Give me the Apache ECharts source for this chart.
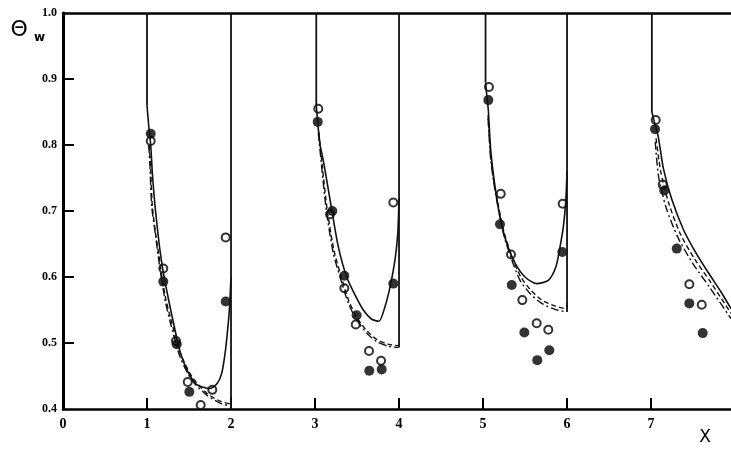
<!DOCTYPE html>
<html><head><meta charset="utf-8">
<script src="https://cdn.jsdelivr.net/npm/echarts@6/dist/echarts.min.js"></script>
<style>html,body{margin:0;padding:0;background:#fff}#c{width:731px;height:451px}</style>
</head><body><div id="c"></div><script>
// axis ranges
const xRange = [0, 7.952];
const yRange = [0.4, 1.0];
// tick positions
const xTickVals = [1, 2, 3, 4, 5, 6, 7];
const yTickVals = [0.5, 0.6, 0.7, 0.8, 0.9];

// measured points (filled circles)
const filledPts = [
  [1.044,0.817],[1.194,0.593],[1.354,0.498],[1.504,0.426],[1.937,0.563],
  [3.032,0.835],[3.206,0.700],[3.349,0.602],[3.496,0.542],[3.646,0.458],[3.794,0.460],[3.932,0.590],
  [5.063,0.868],[5.202,0.680],[5.342,0.588],[5.492,0.516],[5.646,0.474],[5.789,0.489],[5.944,0.638],
  [7.048,0.824],[7.158,0.731],[7.306,0.643],[7.456,0.560],[7.615,0.515]
];
// measured points (open circles)
const openPts = [
  [1.044,0.806],[1.194,0.613],[1.345,0.503],[1.485,0.441],[1.639,0.406],[1.777,0.429],[1.937,0.660],
  [3.039,0.855],[3.179,0.695],[3.349,0.583],[3.485,0.528],[3.643,0.488],[3.786,0.473],[3.932,0.713],
  [5.071,0.888],[5.211,0.726],[5.333,0.634],[5.468,0.565],[5.639,0.530],[5.777,0.520],[5.948,0.711],
  [7.056,0.838],[7.139,0.740],[7.456,0.589],[7.604,0.558]
];

// vertical walls (straight lines)
const walls = [
  [[1.0,1.0],[1.0,0.86]],
  [[2.0,0.4],[2.0,1.0]],
  [[3.015,1.0],[3.015,0.86]],
  [[4.0,0.493],[4.0,1.0]],
  [[5.03,1.0],[5.03,0.895]],
  [[6.0,0.547],[6.0,1.0]],
  [[7.01,1.0],[7.01,0.85]]
];

// solid theoretical curves
const solid1 = [[1.0,0.86],[1.02,0.83],[1.044,0.80],[1.065,0.755],[1.09,0.715],[1.12,0.678],[1.155,0.640],[1.19,0.610],[1.226,0.585],[1.294,0.543],[1.354,0.508],[1.40,0.484],[1.492,0.455],[1.592,0.437],[1.75,0.431],[1.837,0.439],[1.889,0.454],[1.929,0.484],[1.956,0.515],[1.98,0.550],[2.0,0.60]];
const solid2 = [[3.015,0.86],[3.035,0.83],[3.06,0.80],[3.085,0.785],[3.119,0.762],[3.199,0.702],[3.277,0.646],[3.377,0.600],[3.476,0.573],[3.575,0.550],[3.675,0.536],[3.76,0.533],[3.833,0.555],[3.893,0.585],[3.952,0.626],[3.985,0.666],[4.0,0.72]];
const solid3 = [[5.03,0.895],[5.045,0.875],[5.063,0.853],[5.092,0.792],[5.143,0.737],[5.202,0.691],[5.282,0.651],[5.381,0.621],[5.50,0.600],[5.639,0.590],[5.777,0.595],[5.869,0.616],[5.917,0.646],[5.956,0.676],[5.985,0.715],[6.0,0.76]];
const solid4 = [[7.01,0.85],[7.04,0.835],[7.087,0.812],[7.146,0.765],[7.246,0.718],[7.385,0.672],[7.55,0.633],[7.70,0.603],[7.83,0.578],[7.952,0.552]];

// dashed theoretical curves
const dashed1 = [[1.025,0.80],[1.04,0.775],[1.062,0.71],[1.10,0.668],[1.14,0.634],[1.18,0.598],[1.225,0.566],[1.28,0.538],[1.40,0.484],[1.535,0.449],[1.711,0.424],[1.869,0.412],[1.99,0.408],[2.0,0.42]];
const dashed2 = [[3.045,0.82],[3.085,0.77],[3.147,0.70],[3.226,0.640],[3.306,0.603],[3.405,0.563],[3.504,0.538],[3.62,0.518],[3.74,0.505],[3.875,0.498],[3.99,0.496],[4.0,0.50]];
const dashed3 = [[5.06,0.845],[5.09,0.785],[5.13,0.745],[5.17,0.716],[5.25,0.668],[5.35,0.629],[5.45,0.600],[5.57,0.580],[5.70,0.565],[5.86,0.556],[5.99,0.552],[6.0,0.56]];
const dashed4 = [[7.06,0.810],[7.115,0.760],[7.21,0.712],[7.35,0.665],[7.52,0.627],[7.70,0.594],[7.952,0.545]];

// dash-dot theoretical curves
const dashdot1 = [[1.02,0.80],[1.032,0.777],[1.056,0.707],[1.10,0.665],[1.135,0.630],[1.175,0.595],[1.22,0.562],[1.274,0.533],[1.393,0.479],[1.532,0.444],[1.711,0.421],[1.869,0.409],[1.99,0.405],[2.0,0.41]];
const dashdot2 = [[3.04,0.818],[3.079,0.767],[3.139,0.697],[3.218,0.636],[3.298,0.600],[3.397,0.560],[3.496,0.535],[3.615,0.515],[3.735,0.502],[3.873,0.495],[3.992,0.493]];
const dashdot3 = [[5.06,0.84],[5.09,0.78],[5.125,0.745],[5.163,0.717],[5.242,0.666],[5.342,0.626],[5.44,0.595],[5.56,0.575],[5.699,0.560],[5.857,0.551],[5.996,0.547]];
const dashdot4 = [[7.05,0.805],[7.09,0.752],[7.18,0.705],[7.32,0.660],[7.50,0.620],[7.70,0.584],[7.952,0.537]];

const INK = '#111';
const TICK_LEN = 11;
function curve(data, type, width){
  return {type:'line', data:data, smooth:0.25, symbol:'none', silent:true,
          lineStyle:{color:INK, width:width, type:type}};
}
const series = [];
walls.forEach(w => series.push({type:'line', data:w, smooth:false, symbol:'none', silent:true, lineStyle:{color:INK,width:1.8}}));
[solid1,solid2,solid3,solid4].forEach(d => series.push(curve(d,'solid',1.6)));
[dashed1,dashed2,dashed3,dashed4].forEach(d => series.push(curve(d,[5,3],1.4)));
[dashdot1,dashdot2,dashdot3,dashdot4].forEach(d => series.push(curve(d,[8,3,2,3],1.4)));
// inward tick marks drawn through the axis scales
series.push({type:'custom', silent:true, clip:false, encode:{x:0, y:1},
  data: xTickVals.map(v => [v, yRange[0]]),
  renderItem: (params, api) => {
    const p = api.coord([api.value(0), api.value(1)]);
    return {type:'line', shape:{x1:p[0], y1:p[1], x2:p[0], y2:p[1]-TICK_LEN}, style:{stroke:'#000', lineWidth:2}};
  }});
series.push({type:'custom', silent:true, clip:false, encode:{x:0, y:1},
  data: yTickVals.map(v => [xRange[0], v]),
  renderItem: (params, api) => {
    const p = api.coord([api.value(0), api.value(1)]);
    return {type:'line', shape:{x1:p[0], y1:p[1], x2:p[0]+TICK_LEN, y2:p[1]}, style:{stroke:'#000', lineWidth:2}};
  }});
series.push({type:'scatter', data:openPts, symbol:'circle', symbolSize:8,
  itemStyle:{color:'#fff', borderColor:'#000', borderWidth:2}});
series.push({type:'scatter', data:filledPts, symbol:'circle', symbolSize:10,
  itemStyle:{color:'#000'}});

const chart = echarts.init(document.getElementById('c'));
chart.setOption({
  animation:false, backgroundColor:'#fff',
  grid:{left:63, right:0, top:13, bottom:42},
  xAxis:[{
    type:'value', min:xRange[0], max:xRange[1], interval:1,
    name:'X', nameLocation:'end', nameGap:-26,
    nameTextStyle:{fontFamily:'DejaVu Sans', fontSize:17, color:'#000', align:'center', verticalAlign:'top', padding:[20,0,0,0]},
    axisLine:{show:true, lineStyle:{color:'#000', width:2.5}},
    axisTick:{show:false},
    axisLabel:{margin:8, showMaxLabel:false, fontSize:14, fontFamily:'Liberation Serif', fontWeight:'bold', color:'#000',
      formatter: v => Number.isInteger(v) ? String(v) : ''},
    splitLine:{show:false}
  },{
    type:'value', position:'top', min:xRange[0], max:xRange[1],
    axisLine:{show:true, lineStyle:{color:'#000', width:2.5}},
    axisTick:{show:false}, axisLabel:{show:false}, splitLine:{show:false}
  }],
  yAxis:{
    type:'value', min:yRange[0], max:yRange[1], interval:0.1,
    name:'{t|Θ}{s|w}', nameLocation:'end', nameGap:-17,
    nameTextStyle:{align:'right', verticalAlign:'middle', padding:[0,18,0,0],
      rich:{t:{fontFamily:'DejaVu Sans', fontSize:22, color:'#000'},
            s:{fontFamily:'DejaVu Sans', fontSize:12, fontWeight:'bold', color:'#000', padding:[16,0,0,6]}}},
    axisLine:{show:true, lineStyle:{color:'#000', width:3}},
    axisTick:{show:false},
    axisLabel:{margin:6, fontSize:12, fontFamily:'Liberation Serif', fontWeight:'bold', color:'#000',
      formatter: v => v.toFixed(1)},
    splitLine:{show:false}
  },
  series:series
});
</script></body></html>
